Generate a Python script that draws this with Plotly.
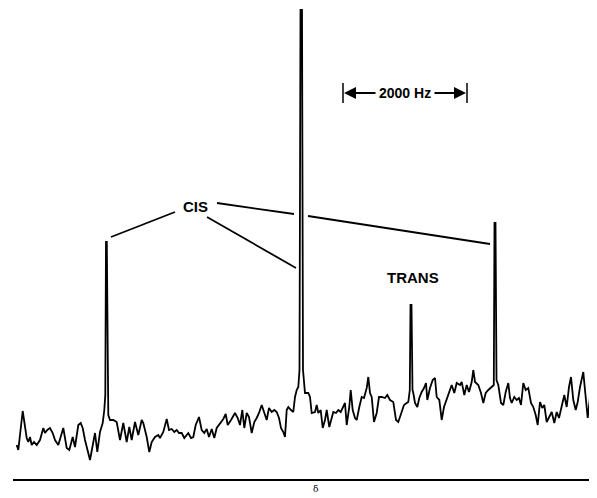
import plotly.graph_objects as go

# Chemical shift positions (arbitrary units, left to right)
shift = [
    16.7, 18.3, 22.7, 25, 26.7, 28.3, 30, 31.7, 34, 36.7,
    40, 43.3, 45, 47.3, 50, 52.7, 55, 58.3, 61.7, 63.3,
    66.7, 69.3, 72.7, 75, 78.3, 80.7, 82.7, 85, 90, 92.7,
    95, 97.3, 100, 102.7, 104.3, 105.3, 106, 106.8, 107.5, 108.3,
    110, 113.3, 116.7, 120, 123.3, 126.7, 129.3, 131.7, 135, 138.3,
    141.7, 143.3, 146.7, 149.3, 151.7, 155, 158.3, 160, 163.3, 166.7,
    169, 171.7, 174.3, 176.7, 179, 181.7, 184.3, 186.7, 188.3, 191,
    193.3, 195.7, 199, 201.7, 204.3, 206.7, 209, 211.7, 214.3, 216.7,
    220, 223.3, 225.7, 227.7, 231, 235, 237.7, 240, 242.3, 244.3,
    246.7, 249, 251.7, 254.3, 256.7, 259, 261.7, 264.3, 266.7, 269,
    271.7, 274.3, 276.7, 279, 281, 283.3, 285, 286.7, 288.3, 291,
    293.3, 295, 296.7, 298.3, 299.5, 300.5, 302, 303, 305, 308.3,
    310, 311.7, 315, 316.7, 318.3, 320.7, 322.7, 325, 326.7, 329.3,
    331.7, 333.3, 336, 338.3, 340.7, 343.3, 345, 346.7, 349.3, 350.7,
    352.7, 355, 356.7, 359.3, 361.7, 364, 366.7, 368.3, 370, 371.7,
    374, 376.7, 379, 381.7, 385, 387.3, 390, 393.3, 396, 398.3,
    401.7, 404, 406.7, 408.3, 409.8, 410.5, 411.5, 412.5, 413.3, 415,
    417.3, 419.3, 421.7, 424, 426, 427.3, 430, 432.7, 435, 436.7,
    439.3, 441.7, 444, 446.7, 448.3, 451.7, 454.3, 456.7, 460, 461.7,
    464.3, 466.7, 469, 471.7, 473.3, 475, 478.3, 481, 483.3, 485.7,
    488.3, 491.7, 493.8, 494.5, 495.5, 496.5, 498.3, 501, 503.3, 505.7,
    508.3, 510, 511.7, 514.3, 516.7, 519, 521, 523.3, 525.7, 528.3,
    531, 533.3, 535.7, 537.7, 540, 542.3, 544.3, 546.7, 549, 551.7,
    554.3, 556.7, 559, 561.7, 564.3, 566.7, 569, 571, 573.3, 575.7,
    577.7, 580, 583.3, 585, 587.7, 590, 592.3, 595.7, 597,
]

intensity = [
    35, 30, 69, 55, 42, 38, 43, 35, 38, 35,
    40, 52, 47, 50, 52, 47, 40, 35, 45, 52,
    32, 30, 43, 33, 55, 57, 52, 40, 20, 33,
    47, 28, 48, 57, 70, 85, 238, 238, 80, 65,
    60, 60, 58, 40, 57, 38, 53, 40, 58, 45,
    60, 57, 43, 28, 38, 43, 45, 42, 48, 61,
    50, 51, 48, 50, 47, 47, 42, 45, 47, 42,
    43, 55, 63, 50, 47, 51, 43, 51, 42, 52,
    57, 61, 66, 55, 60, 67, 62, 55, 70, 52,
    67, 63, 47, 58, 62, 67, 75, 68, 60, 72,
    68, 70, 68, 62, 52, 48, 43, 70, 73, 70,
    68, 83, 90, 93, 110, 470, 470, 110, 87, 87,
    83, 67, 68, 75, 67, 70, 52, 60, 70, 53,
    63, 68, 67, 70, 68, 73, 77, 55, 73, 90,
    70, 62, 60, 73, 83, 82, 92, 103, 87, 83,
    58, 67, 83, 83, 82, 85, 80, 78, 60, 58,
    67, 75, 77, 78, 90, 175, 175, 90, 87, 77,
    73, 82, 88, 92, 97, 80, 92, 100, 102, 83,
    80, 60, 73, 80, 85, 95, 87, 97, 95, 98,
    85, 95, 88, 98, 110, 98, 95, 87, 77, 87,
    90, 93, 95, 257, 257, 100, 95, 77, 75, 88,
    97, 82, 77, 83, 80, 82, 75, 97, 90, 92,
    77, 73, 65, 55, 78, 72, 75, 58, 63, 68,
    57, 68, 62, 73, 85, 73, 93, 103, 80, 70,
    78, 93, 108, 90, 62, 83, 88, 85, 87,
]

labels = ["CIS", "TRANS", "2000 Hz", "δ"]

fig = go.Figure()
fig.add_trace(go.Scatter(
    x=shift, y=intensity, mode="lines",
    line=dict(color="black", width=1.8),
    hoverinfo="skip", showlegend=False,
))

line_style = dict(color="black", width=1.8)
# label leader lines (data coords)
for x0, y0, x1, y1 in [
    (111, 243, 175, 268),
    (207, 263, 296, 212),
    (217, 277, 294, 266),
    (308, 264, 490, 236),
]:
    fig.add_shape(type="line", x0=x0, y0=y0, x1=x1, y1=y1, line=line_style)

# baseline axis rule
fig.add_shape(type="line", x0=13, y0=0, x1=600, y1=0, line=dict(color="black", width=2))

# 2000 Hz scale bar
fig.add_shape(type="line", x0=343, y0=377, x1=343, y1=397, line=dict(color="black", width=1.5))
fig.add_shape(type="line", x0=467, y0=377, x1=467, y1=397, line=dict(color="black", width=1.5))
for head, tail in [(344, 377), (466, 433)]:
    fig.add_annotation(x=head, y=387, ax=tail, ay=387, axref="x", ayref="y",
                       xref="x", yref="y", text="", showarrow=True,
                       arrowhead=2, arrowsize=1.2, arrowwidth=2, arrowcolor="black",
                       standoff=0, startstandoff=0)

font_bold = dict(family="Liberation Sans, Arial, sans-serif", color="black")
fig.add_annotation(x=195, y=274, text="<b>" + labels[0] + "</b>", showarrow=False,
                   font=dict(size=15, **font_bold))
fig.add_annotation(x=413, y=203, text="<b>" + labels[1] + "</b>", showarrow=False,
                   font=dict(size=15, **font_bold))
fig.add_annotation(x=405, y=387, text="<b>" + labels[2] + "</b>", showarrow=False,
                   font=dict(size=14, **font_bold))
fig.add_annotation(x=315, y=-9, text=labels[3], showarrow=False,
                   font=dict(size=9, family="DejaVu Serif, serif", color="black"))

# page body has an 8px default margin; size/ranges compensate so marks land in place
fig.update_layout(
    width=589, height=490,
    margin=dict(l=0, r=0, t=0, b=0),
    paper_bgcolor="white", plot_bgcolor="white",
    xaxis=dict(range=[8, 597], visible=False, fixedrange=True),
    yaxis=dict(range=[-18, 472], visible=False, fixedrange=True),
)

fig.write_html("out.html")
